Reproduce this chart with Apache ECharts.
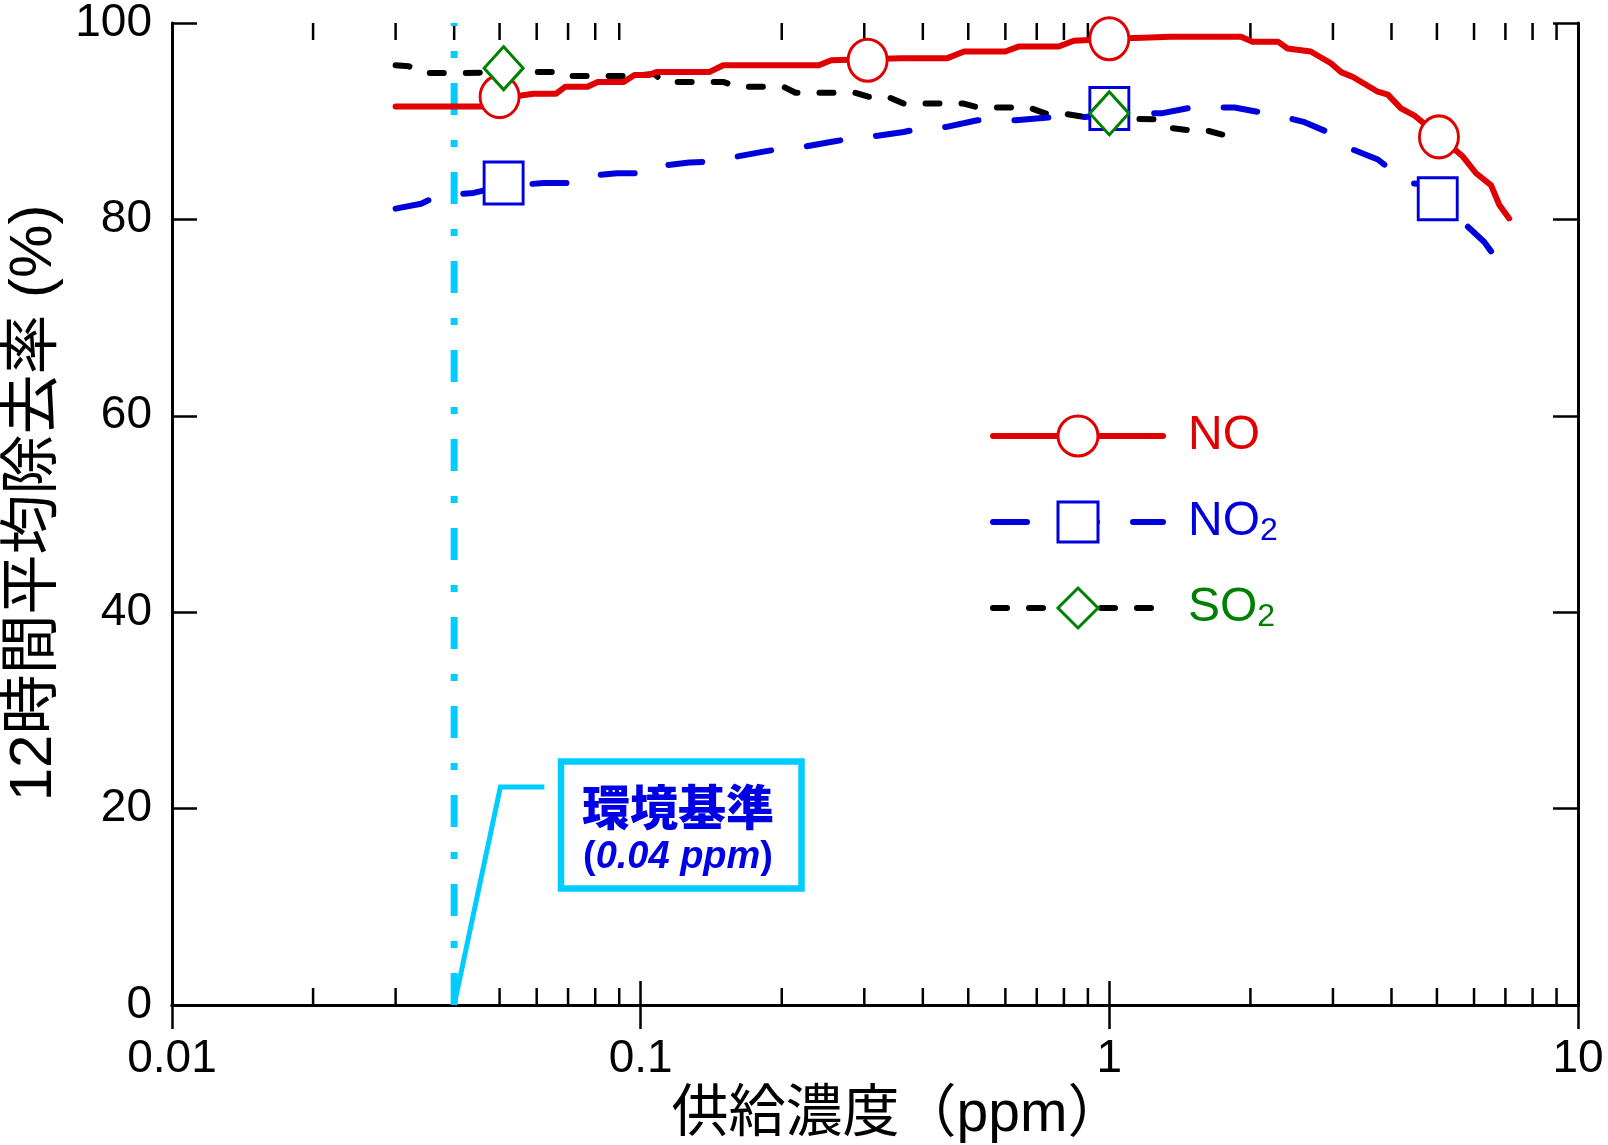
<!DOCTYPE html>
<html><head><meta charset="utf-8">
<script src="https://cdn.jsdelivr.net/npm/echarts@6/dist/echarts.min.js"></script>
<style>html,body{margin:0;padding:0;background:#fff}#c{width:1608px;height:1145px}</style>
</head><body><div id="c"></div>
<script>
// ---------- data ----------
const seriesNames = ['NO', 'NO2', 'SO2'];

const noCurve = [
  [0.030, 91.5], [0.046, 91.5], [0.050, 92.3], [0.059, 92.8], [0.066, 92.8], [0.069, 93.5],
  [0.077, 93.5], [0.081, 94.0], [0.092, 94.0], [0.097, 94.7], [0.104, 94.7], [0.108, 95.0],
  [0.140, 95.0], [0.150, 95.7], [0.240, 95.7], [0.255, 96.2], [0.300, 96.3], [0.360, 96.4],
  [0.450, 96.4], [0.490, 97.1], [0.600, 97.1], [0.640, 97.6], [0.780, 97.6], [0.840, 98.2],
  [0.930, 98.3], [1.00, 98.4], [1.18, 98.5], [1.35, 98.6], [1.91, 98.6], [2.02, 98.1],
  [2.29, 98.1], [2.40, 97.4], [2.69, 97.1], [2.97, 95.9], [3.12, 95.0], [3.31, 94.5],
  [3.74, 93.0], [3.93, 92.7], [4.19, 91.3], [4.47, 90.6], [5.08, 88.4], [5.68, 86.4],
  [6.06, 84.7], [6.52, 83.5], [6.79, 81.5], [7.13, 80.1]
];

const no2Curve = [
  [0.030, 81.1], [0.034, 81.6], [0.037, 82.4], [0.044, 82.7], [0.051, 83.4], [0.062, 83.7],
  [0.071, 83.7], [0.076, 84.4], [0.089, 84.7], [0.103, 84.7], [0.108, 85.4], [0.127, 85.8],
  [0.143, 85.9], [0.152, 86.2], [0.183, 86.9], [0.205, 87.3], [0.217, 87.3], [0.256, 87.9],
  [0.285, 88.3], [0.297, 88.3], [0.364, 88.9], [0.409, 89.4], [0.447, 89.4], [0.523, 90.1],
  [0.631, 90.1], [0.750, 90.4], [0.869, 90.4], [1.00, 90.6], [1.18, 90.8], [1.29, 90.8],
  [1.50, 91.4], [1.85, 91.4], [2.16, 90.8], [2.29, 90.6], [2.61, 89.9], [3.09, 88.4],
  [3.31, 87.1], [3.74, 86.1], [4.34, 83.7], [4.59, 83.6], [5.00, 82.2], [6.31, 77.7],
  [6.58, 76.5], [6.80, 75.4], [7.13, 74.5]
];

const so2Curve = [
  [0.030, 95.7], [0.032, 95.6], [0.034, 94.9], [0.041, 94.9], [0.051, 95.0], [0.065, 95.0],
  [0.067, 94.6], [0.095, 94.6], [0.107, 94.8], [0.112, 94.0], [0.150, 94.0], [0.161, 93.5],
  [0.202, 93.5], [0.214, 92.9], [0.287, 92.9], [0.306, 92.5], [0.336, 92.5], [0.364, 91.8],
  [0.489, 91.8], [0.524, 91.4], [0.673, 91.4], [0.739, 90.7], [0.815, 90.7], [0.922, 90.3],
  [1.27, 90.2], [1.36, 89.3], [1.53, 89.0], [1.63, 89.0], [1.82, 88.4], [1.91, 87.8]
];

const noMarkers  = [[0.050, 92.5], [0.305, 96.2], [1.00, 98.4], [5.05, 88.4]];
const no2Markers = [[0.051, 83.7], [1.00, 91.3], [5.02, 82.1]];
const so2Markers = [[0.051, 95.4], [1.00, 90.8]];

const standardLine = [[0.04, 0], [0.04, 100]];
const calloutLine  = [[0.04, 0], [0.0502, 22.2], [0.0623, 22.2]];

const xTickLabels = ['0.01', '0.1', '1', '10'];
const xMinorTicks = [0.02, 0.03, 0.04, 0.05, 0.06, 0.07, 0.08, 0.09,
                     0.2, 0.3, 0.4, 0.5, 0.6, 0.7, 0.8, 0.9,
                     2, 3, 4, 5, 6, 7, 8, 9];
const yAxisTitle = '12時間平均除去率 (%)';
const xAxisTitle = '供給濃度（ppm）';
const noteTitle = '環境基準';
const noteValue = '0.04 ppm';

// ---------- style ----------
const FONT = '"Liberation Sans", Arial, "Noto Sans CJK JP", sans-serif';
const RED = '#E00000', BLUE = '#0000DD', GREEN = '#008000', CYAN = '#00CCFF';
const LW = 6;

const chart = echarts.init(document.getElementById('c'), null, {renderer: 'canvas'});

const xBase = {
  type: 'log', logBase: 10, min: 0.01, max: 10,
  axisLine: {show: true, lineStyle: {color: '#000', width: 3}},
  axisTick: {show: true, inside: true, length: 24, lineStyle: {color: '#000', width: 2.5}},
  splitLine: {show: false}, minorTick: {show: false}, minorSplitLine: {show: false}
};
const yBase = {
  type: 'value', min: 0, max: 100, interval: 20,
  axisLine: {show: true, lineStyle: {color: '#000', width: 3}},
  axisTick: {show: true, inside: true, length: 25, lineStyle: {color: '#000', width: 2.5}},
  splitLine: {show: false}
};

const option = {
  backgroundColor: '#fff',
  animation: false,
  grid: {left: 172, right: 30, top: 23, bottom: 140, containLabel: false, outerBoundsMode: 'none'},
  xAxis: [
    Object.assign({}, xBase, {
      position: 'bottom',
      axisLabel: {show: true, fontSize: 46, color: '#000', fontFamily: FONT, margin: 31,
        formatter: v => xTickLabels[Math.round(Math.log10(v)) + 2]},
      name: xAxisTitle, nameLocation: 'middle', nameGap: 75,
      nameTextStyle: {fontSize: 57, color: '#000', fontFamily: FONT, padding: [0, 0, 0, 46]}
    }),
    Object.assign({}, xBase, {position: 'top', axisLabel: {show: false}})
  ],
  yAxis: [
    Object.assign({}, yBase, {
      position: 'left',
      axisLabel: {show: true, fontSize: 46, color: '#000', fontFamily: FONT, margin: 20},
      name: yAxisTitle, nameLocation: 'middle', nameGap: 90,
      nameTextStyle: {fontSize: 60, color: '#000', fontFamily: FONT, padding: [0, 0, 0, 22]}
    }),
    Object.assign({}, yBase, {position: 'right', axisLabel: {show: false}})
  ],
  legend: {
    orient: 'vertical', left: 985, top: 406,
    itemWidth: 170, itemHeight: 50, itemGap: 36,
    selectedMode: false,
    textStyle: {fontSize: 48, lineHeight: 50, fontFamily: FONT, padding: [0, 0, 0, 20],
      rich: {
        sb: {fontSize: 32, lineHeight: 16, verticalAlign: 'bottom', color: BLUE, fontFamily: FONT},
        sg: {fontSize: 32, lineHeight: 16, verticalAlign: 'bottom', color: GREEN, fontFamily: FONT}
      }},
    formatter: name => name === 'NO2' ? 'NO{sb|2}' : (name === 'SO2' ? 'SO{sg|2}' : name),
    data: [
      {name: 'NO', textStyle: {color: RED},
       itemStyle: {color: '#fff', borderColor: RED, borderWidth: 3},
       lineStyle: {color: RED, width: LW, type: 'solid', cap: 'round'}},
      {name: 'NO2', textStyle: {color: BLUE},
       itemStyle: {color: '#fff', borderColor: BLUE, borderWidth: 3},
       lineStyle: {color: BLUE, width: LW, type: [34, 36], cap: 'round'}},
      {name: 'SO2', textStyle: {color: GREEN},
       itemStyle: {color: '#fff', borderColor: GREEN, borderWidth: 3},
       lineStyle: {color: '#000', width: LW, type: [14, 22], cap: 'round'}}
    ]
  },
  series: [
    { // minor ticks on the log axis (bottom and top)
      type: 'custom', silent: true, z: 1, clip: false,
      data: xMinorTicks.map(v => [v, 0]),
      renderItem: (params, api) => {
        const x = api.value(0);
        const b = api.coord([x, 0]);
        const t = api.coord([x, 100]);
        const st = {stroke: '#000', lineWidth: 2.5};
        return {type: 'group', children: [
          {type: 'line', shape: {x1: b[0], y1: b[1], x2: b[0], y2: b[1] - 17}, style: st},
          {type: 'line', shape: {x1: t[0], y1: t[1], x2: t[0], y2: t[1] + 17}, style: st}
        ]};
      }
    },
    {
      type: 'line', name: '環境基準線', data: standardLine, symbol: 'none', silent: true, z: 2,
      lineStyle: {color: CYAN, width: 7, type: [32, 25, 7, 25], cap: 'butt'}
    },
    {
      type: 'line', name: '注記線', data: calloutLine, symbol: 'none', silent: true, z: 2,
      lineStyle: {color: CYAN, width: 5, type: 'solid', join: 'miter'}
    },
    {
      type: 'line', name: 'SO2', data: so2Curve, symbol: 'diamond', showSymbol: false, z: 3,
      color: '#000', lineStyle: {color: '#000', width: LW, type: [14, 22], cap: 'round', join: 'round'}
    },
    {
      type: 'line', name: 'NO2', data: no2Curve, symbol: 'rect', showSymbol: false, z: 3,
      color: BLUE, lineStyle: {color: BLUE, width: LW, type: [34, 36], cap: 'round', join: 'round'}
    },
    {
      type: 'line', name: 'NO', data: noCurve, symbol: 'circle', showSymbol: false, z: 3,
      color: RED, lineStyle: {color: RED, width: LW, type: 'solid', cap: 'round', join: 'round'}
    },
    {
      type: 'scatter', name: 'NOマーカー', data: noMarkers, symbol: 'circle', symbolSize: [39, 42], z: 5,
      itemStyle: {color: '#fff', borderColor: RED, borderWidth: 3, opacity: 1}
    },
    {
      type: 'scatter', name: 'NO2マーカー', data: no2Markers, symbol: 'rect', symbolSize: [39, 42], z: 5,
      itemStyle: {color: '#fff', borderColor: BLUE, borderWidth: 3, opacity: 1}
    },
    {
      type: 'scatter', name: 'SO2マーカー', data: so2Markers, symbol: 'diamond', symbolSize: [39, 43], z: 5,
      itemStyle: {color: '#fff', borderColor: GREEN, borderWidth: 3, opacity: 1}
    }
  ],
  graphic: [
    {type: 'rect', z: 10, shape: {x: 561, y: 761.5, width: 240.5, height: 127},
     style: {fill: '#fff', stroke: CYAN, lineWidth: 6.5}},
    {type: 'text', z: 11, x: 678, y: 807,
     style: {text: noteTitle, font: '900 48px "Noto Sans CJK JP", sans-serif', fill: '#0000E6',
             align: 'center', verticalAlign: 'middle'}},
    {type: 'text', z: 11, x: 678, y: 858,
     style: {text: '{p|(}{i|' + noteValue + '}{p|)}', align: 'center', verticalAlign: 'middle',
             rich: {
               p: {font: 'bold 38px "Liberation Sans", sans-serif', fill: '#0000E6'},
               i: {font: 'italic bold 38px "Liberation Sans", sans-serif', fill: '#0000E6'}
             }}}
  ]
};
chart.setOption(option);
</script>
</body></html>
